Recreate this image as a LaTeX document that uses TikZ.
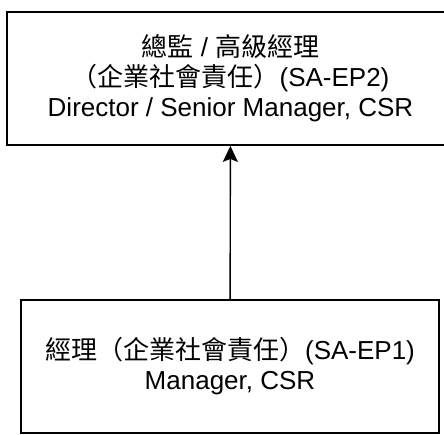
\documentclass[tikz,border=0pt]{standalone}
\usepackage{fontspec}
\setmainfont{Liberation Sans}
\newfontfamily\cjk{Noto Sans CJK TC}
\usetikzlibrary{arrows.meta}

\tikzset{
  rolebox/.style={draw=black, line width=1.8pt, minimum height=133pt,
    align=center, inner sep=0pt, font=\fontsize{26}{30}\selectfont},
}

\begin{document}
\begin{tikzpicture}[x=1pt, y=-1pt]
\useasboundingbox (0,0) rectangle (444,434);
\clip (0,0) rectangle (444,434);
%% boxes
\node [rolebox, minimum width=447pt] (director) at (230.5,78.5)
  {{\cjk 總監} / {\cjk 高級經理}\\{\cjk （企業社會責任）}(SA-EP2)\\Director / Senior Manager, CSR};
\node [rolebox, minimum width=418pt] (manager) at (230,366.5)
  {{\cjk 經理（企業社會責任）}(SA-EP1)\\Manager, CSR};
%% arrow
\draw [-{Stealth[length=16pt, width=15pt, inset=3pt]}, line width=1.4pt] (manager) -- (director);
\end{tikzpicture}
\end{document}
